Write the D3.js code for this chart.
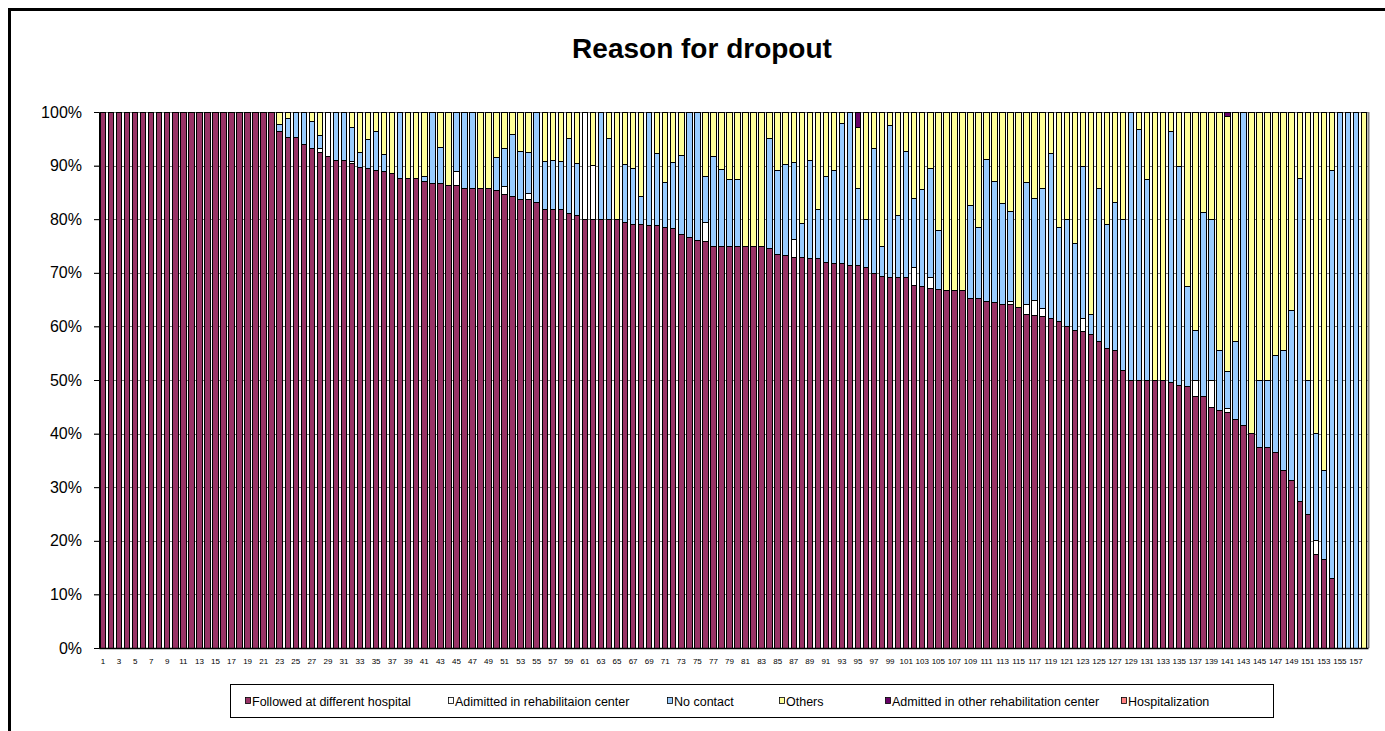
<!DOCTYPE html>
<html>
<head>
<meta charset="utf-8">
<script src="https://cdn.jsdelivr.net/npm/d3@7"></script>
<style>
  body { margin: 0; background: #fff; }
  svg { display: block; font-family: "Liberation Sans", Arial, sans-serif; }
  .bar { stroke: #000; stroke-width: 1px; shape-rendering: crispEdges; }
  .grid line { stroke: #808080; shape-rendering: crispEdges; }
</style>
</head>
<body>
<svg id="chart" width="1385" height="731"></svg>
<script>
// patients 1..158, sorted by share followed at a different hospital
const patients = d3.range(1, 159);
const yTicks = [0, 10, 20, 30, 40, 50, 60, 70, 80, 90, 100];

// percent per patient (10 bars per row)
const followed = [
  100, 100, 100, 100, 100, 100, 100, 100, 100, 100,
  100, 100, 100, 100, 100, 100, 100, 100, 100, 100,
  100, 100, 96.3, 95.3, 95.3, 94.0, 93.1, 92.5, 91.7, 90.9,
  90.9, 90.4, 89.6, 89.4, 89.1, 88.9, 88.5, 87.6, 87.6, 87.6,
  87.0, 86.7, 86.7, 86.2, 86.2, 85.8, 85.8, 85.8, 85.8, 85.3,
  84.7, 84.3, 83.7, 83.6, 83.2, 81.9, 81.9, 81.9, 81.1, 80.7,
  80, 80, 80, 80, 80, 79.3, 79.0, 79.0, 78.8, 78.8,
  78.4, 78.2, 77.1, 76.6, 76.1, 75.8, 75, 75, 75, 75,
  75, 75, 75, 74.6, 73.5, 73.2, 72.9, 72.8, 72.7, 72.7,
  71.9, 71.8, 71.8, 71.4, 71.4, 71.0, 69.8, 69.4, 69.2, 69.2,
  69.1, 67.7, 67.4, 67.0, 66.8, 66.7, 66.7, 66.7, 65.2, 65.2,
  64.7, 64.5, 64.1, 64.1, 63.6, 62.2, 62.1, 61.8, 61.5, 60.9,
  60.0, 59.3, 59.0, 58.5, 57.1, 55.8, 55.5, 51.7, 50, 50,
  50, 50, 50, 49.5, 49.0, 48.8, 46.9, 46.9, 44.9, 44.4,
  43.9, 42.7, 41.5, 40, 37.5, 37.5, 36.4, 33.2, 31.3, 27.4,
  24.9, 17.4, 16.6, 13.0, 0, 0, 0, 0
];

const noContact = [
  0, 0, 0, 0, 0, 0, 0, 0, 0, 0,
  0, 0, 0, 0, 0, 0, 0, 0, 0, 0,
  0, 0, 1.4, 3.4, 4.7, 6.0, 5.1, 2.4, 0, 9.1,
  9.1, 6.4, 2.9, 5.4, 7.2, 3.2, 0, 12.4, 0, 0,
  1.0, 13.3, 6.7, 0, 11.1, 14.2, 14.2, 0, 0, 6.2,
  7.0, 11.5, 9.0, 7.6, 16.8, 8.9, 9.1, 8.9, 14.0, 9.7,
  0, 0, 20, 15.1, 0, 10.9, 10.5, 5.3, 21.2, 13.5,
  8.5, 12.4, 14.8, 23.4, 23.9, 8.6, 16.7, 14.3, 12.5, 12.5,
  0, 0, 0, 20.4, 15.5, 17.0, 14.3, 6.4, 18.2, 9.2,
  16.1, 17.2, 26.1, 28.6, 14.4, 8.9, 23.3, 5.6, 28.3, 11.5,
  23.6, 12.9, 18.1, 20.3, 11.0, 0, 0, 0, 17.4, 13.2,
  26.5, 22.6, 18.9, 16.8, 0, 22.7, 19.0, 22.4, 30.8, 17.5,
  20.0, 16.1, 28.3, 3.7, 28.7, 23.2, 27.7, 28.3, 50, 46.7,
  37.5, 0, 0, 46.8, 40.8, 18.7, 9.3, 34.3, 30, 11.1,
  6.9, 14.4, 58.5, 0, 12.5, 12.5, 18.1, 22.3, 31.6, 60.2,
  25.1, 20, 16.6, 76.1, 100, 100, 100, 0
];

const others = [
  0, 0, 0, 0, 0, 0, 0, 0, 0, 0,
  0, 0, 0, 0, 0, 0, 0, 0, 0, 0,
  0, 0, 2.3, 1.3, 0, 0, 1.8, 4.4, 0, 0,
  0, 2.9, 7.5, 5.2, 3.7, 7.9, 11.5, 0, 12.4, 12.4,
  12.0, 0, 6.6, 13.8, 0, 0, 0, 14.2, 14.2, 8.5,
  6.9, 4.2, 7.3, 7.6, 0, 9.2, 9.0, 9.2, 4.9, 9.6,
  0, 10, 0, 4.9, 20, 9.8, 10.5, 15.7, 0, 7.7,
  13.1, 9.4, 8.1, 0, 0, 12.1, 8.3, 10.7, 12.5, 12.5,
  25, 25, 25, 5.0, 11.0, 9.8, 9.4, 20.8, 9.1, 18.1,
  12.0, 11.0, 2.1, 0, 11.3, 20.1, 6.9, 25.0, 2.5, 19.3,
  7.3, 16.1, 14.5, 10.6, 22.2, 33.3, 33.3, 33.3, 17.4, 21.6,
  8.8, 12.9, 17.0, 18.5, 36.4, 13.2, 16.1, 14.2, 7.7, 21.6,
  20.0, 24.6, 10.2, 37.8, 14.2, 21.0, 16.8, 20.0, 0, 3.3,
  12.5, 50, 50, 3.7, 10.2, 32.5, 40.7, 18.8, 20, 44.5,
  47.6, 42.9, 0, 60, 50, 50, 45.5, 44.5, 37.1, 12.4,
  50, 60, 66.8, 10.9, 0, 0, 0, 100
];

// sparse series: patient number -> percent
const admittedRehab = {
  28: 0.7, 29: 8.3, 32: 0.3, 45: 2.7, 51: 1.4, 54: 1.2, 61: 20, 62: 10,
  76: 3.5, 87: 3.4, 102: 3.3, 104: 2.1, 114: 0.6, 116: 1.9, 117: 2.8,
  118: 1.6, 123: 2.5, 137: 3.1, 139: 5.1, 141: 0.8, 152: 2.6
};
const admittedOtherRehab = { 95: 2.9, 141: 0.8 };
const hospitalization = {};

const seriesNames = [
  "Followed at different hospital",
  "Adimitted in rehabilitaion center",
  "No contact",
  "Others",
  "Admitted in other rehabilitation center",
  "Hospitalization"
];
const seriesColors = ["#993366", "#ffffff", "#99ccff", "#ffff99", "#660066", "#ff8080"];

const table = patients.map((p, i) => ({
  patient: p,
  [seriesNames[0]]: followed[i],
  [seriesNames[1]]: admittedRehab[p] || 0,
  [seriesNames[2]]: noContact[i],
  [seriesNames[3]]: others[i],
  [seriesNames[4]]: admittedOtherRehab[p] || 0,
  [seriesNames[5]]: hospitalization[p] || 0
}));

const svg = d3.select("#chart");

// chart area frame (runs off the right/bottom of the picture)
svg.append("rect")
  .attr("x", 9.5).attr("y", 9.5)
  .attr("width", 1390).attr("height", 740)
  .attr("fill", "#fff").attr("stroke", "#000").attr("stroke-width", 3);

svg.append("text")
  .attr("x", 702).attr("y", 58)
  .attr("text-anchor", "middle")
  .style("font-size", "28px").style("font-weight", "bold")
  .text("Reason for dropout");

const plot = { left: 99, right: 1368, top: 112, bottom: 648 };

const x = d3.scaleBand()
  .domain(patients)
  .range([plot.left, plot.right])
  .paddingInner(0.32)
  .paddingOuter(0.16);

const y = d3.scaleLinear()
  .domain([0, 100])
  .range([plot.bottom, plot.top]);

// gridlines behind the bars
svg.append("g")
  .attr("class", "grid")
  .selectAll("line")
  .data(yTicks)
  .join("line")
  .attr("x1", plot.left - 5).attr("x2", plot.right)
  .attr("y1", d => Math.round(y(d)) + 0.5)
  .attr("y2", d => Math.round(y(d)) + 0.5);

svg.append("line")
  .attr("x1", plot.right + 0.5).attr("x2", plot.right + 0.5)
  .attr("y1", plot.top).attr("y2", plot.bottom)
  .attr("stroke", "#808080").attr("stroke-width", 2);

const stack = d3.stack().keys(seriesNames);
const layers = stack(table);

svg.append("g")
  .selectAll("g")
  .data(layers)
  .join("g")
  .attr("fill", (d, i) => seriesColors[i])
  .selectAll("rect")
  .data(d => d.filter(s => s[1] - s[0] > 0))
  .join("rect")
  .attr("class", "bar")
  .attr("x", d => x(d.data.patient))
  .attr("width", x.bandwidth())
  .attr("y", d => y(d[1]))
  .attr("height", d => y(d[0]) - y(d[1]));

// y axis
const yAxis = svg.append("g")
  .attr("transform", `translate(${plot.left},0)`)
  .call(d3.axisLeft(y).tickValues(yTicks).tickFormat(d => d + "%").tickSize(5).tickPadding(12));
yAxis.select(".domain").attr("stroke", "#000");
yAxis.selectAll("text").style("font-size", "16px").style("font-family", "'Liberation Sans', Arial, sans-serif");

// x axis, every other patient labelled
const xAxis = svg.append("g")
  .attr("transform", `translate(0,${plot.bottom})`)
  .call(d3.axisBottom(x)
    .tickValues(patients.filter(p => p % 2 === 1))
    .tickSize(0).tickPadding(10)
    .tickSizeOuter(0));
xAxis.select(".domain").attr("stroke", "#000").attr("stroke-width", 1.5);
xAxis.selectAll("text").style("font-size", "8px").style("font-family", "'Liberation Sans', Arial, sans-serif");

// legend
const legendX = [245, 448, 667, 779, 885, 1121];
svg.append("rect")
  .attr("x", 230.5).attr("y", 684.5)
  .attr("width", 1043).attr("height", 33)
  .attr("fill", "#fff").attr("stroke", "#000");

const item = svg.append("g")
  .selectAll("g")
  .data(seriesNames)
  .join("g")
  .attr("transform", (d, i) => `translate(${legendX[i]},0)`);

item.append("rect")
  .attr("x", 0.5).attr("y", 697.5)
  .attr("width", 5).attr("height", 6)
  .attr("fill", (d, i) => seriesColors[i])
  .attr("stroke", "#000").attr("stroke-width", 0.8);

item.append("text")
  .attr("x", 7).attr("y", 706)
  .style("font-size", "12.5px")
  .text(d => d);
</script>
</body>
</html>
